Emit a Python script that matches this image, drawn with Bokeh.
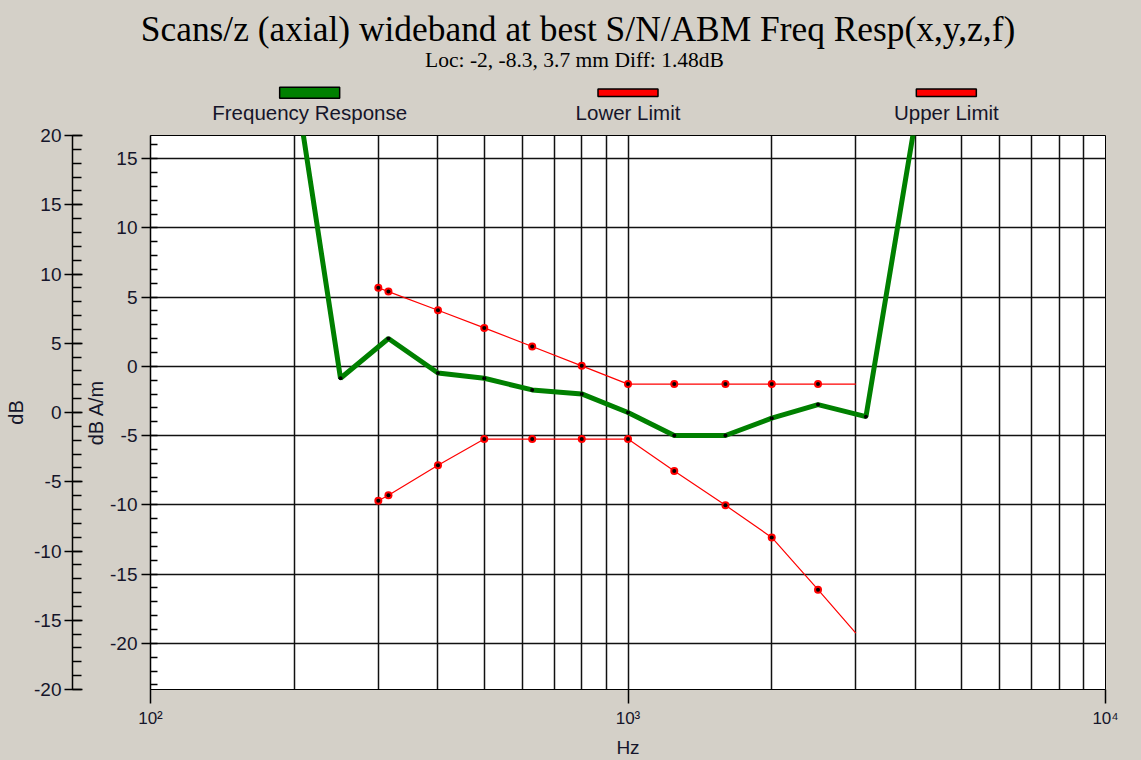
from bokeh.plotting import figure
from bokeh.layouts import column
from bokeh.models import Range1d, LinearAxis, FixedTicker
from bokeh.core.properties import value
from bokeh.embed import file_html
from bokeh.resources import INLINE

# ---------------- data ----------------
title_text = "Scans/z (axial) wideband at best S/N/ABM Freq Resp(x,y,z,f)"
subtitle_text = "Loc: -2, -8.3, 3.7 mm Diff: 1.48dB"
legend_labels = ["Frequency Response", "Lower Limit", "Upper Limit"]
legend_colors = ["#008000", "#FF0000", "#FF0000"]

resp_hz = [200, 250, 315, 400, 500, 630, 800, 1000, 1250, 1600, 2000, 2500, 3150, 4000]
resp_db = [21.0, -0.86, 2.01, -0.48, -0.86, -1.70, -1.99, -3.33, -4.99, -4.99, -3.74, -2.76, -3.63, 17.8]

upper_hz = [300, 315, 400, 500, 630, 800, 1000, 1250, 1600, 2000, 2500, 3000]
upper_db = [5.68, 5.40, 4.05, 2.78, 1.44, 0.04, -1.28, -1.28, -1.28, -1.28, -1.28, -1.28]

lower_hz = [300, 315, 400, 500, 630, 800, 1000, 1250, 1600, 2000, 2500, 3000]
lower_db = [-9.70, -9.30, -7.14, -5.25, -5.25, -5.25, -5.25, -7.55, -10.03, -12.35, -16.12, -19.26]

x_major = [100, 1000, 10000]
x_minor = [200, 300, 400, 500, 600, 700, 800, 900,
           2000, 3000, 4000, 5000, 6000, 7000, 8000, 9000]
x_labels = ["10\u00b2", "10\u00b3", "10\u2074"]
inner_major = [-20, -15, -10, -5, 0, 5, 10, 15]
inner_minor = list(range(-23, 17))
outer_major = [-20, -15, -10, -5, 0, 5, 10, 15, 20]
outer_minor = list(range(-20, 21))

# ---------------- style ----------------
BG = "#D4D0C8"
TXT = "#15152a"
SANS = "Liberation Sans"
SERIF = "Liberation Serif"
W = 1141
HEAD_H = 124
MAIN_H = 760 - HEAD_H
L, R, T, B = 150, 36, 135 - HEAD_H, 68


def no_align(fig):
    try:
        fig.frame_align = False
    except AttributeError:
        pass


# ---------------- header (title + legend) ----------------
hd = figure(width=W, height=HEAD_H, x_range=Range1d(0, W), y_range=Range1d(HEAD_H, 0),
            x_axis_location=None, y_axis_location=None,
            output_backend="svg", toolbar_location=None,
            min_border=0, min_border_left=0, min_border_right=0,
            min_border_top=0, min_border_bottom=0,
            background_fill_color=BG, border_fill_color=BG, outline_line_color=None)
hd.grid.visible = False
no_align(hd)
hd.text(x=[577.5], y=[28.5], text=[title_text], text_align="center",
        text_baseline="middle", text_font=value(SERIF),
        text_font_size=value("35.4px"), text_color="black")
hd.text(x=[574], y=[59], text=[subtitle_text], text_align="center",
        text_baseline="middle", text_font=value(SERIF),
        text_font_size=value("21.5px"), text_color="black")

frame_l, frame_r = L, W - R
col_w = (frame_r - frame_l) / 3
centers = [frame_l + col_w * (k + 0.5) for k in range(3)]
sw_half_h = [5.5, 3.8, 3.8]
hd.quad(left=[c - 30 for c in centers], right=[c + 30 for c in centers],
        top=[92.2 - h for h in sw_half_h], bottom=[92.2 + h for h in sw_half_h],
        fill_color=legend_colors, line_color="black", line_width=1.5)
hd.text(x=centers, y=[112] * 3, text=legend_labels, text_align="center",
        text_baseline="middle", text_font=value(SANS),
        text_font_size=value("20.5px"), text_color=TXT)

# ---------------- main plot ----------------
p = figure(width=W, height=MAIN_H, x_axis_type="log",
           x_range=Range1d(100, 10000), y_range=Range1d(-23.33, 16.67),
           output_backend="svg", toolbar_location=None,
           min_border_left=L, min_border_right=R, min_border_top=T, min_border_bottom=B,
           background_fill_color="white", border_fill_color=BG,
           outline_line_color="black", outline_line_width=1)
no_align(p)
p.extra_y_ranges = {"outer": Range1d(-20, 20)}

# x axis
xa = p.xaxis[0]
xt = FixedTicker(ticks=x_major, minor_ticks=x_minor)
xa.ticker = xt
xa.major_label_overrides = {v: s for v, s in zip(x_major, x_labels)}
xa.major_tick_out = 14
xa.major_tick_in = 0
xa.minor_tick_in = 0
xa.minor_tick_out = 0
xa.major_label_standoff = 5
xa.major_label_text_font = SANS
xa.major_label_text_font_size = "17px"
xa.major_label_text_color = TXT
xa.axis_label = "Hz"
xa.axis_label_text_font = SANS
xa.axis_label_text_font_size = "19px"
xa.axis_label_text_font_style = "normal"
xa.axis_label_text_color = TXT
xa.axis_label_standoff = 6
xa.axis_line_color = "black"
xa.major_tick_line_width = 1.5

# inner y axis (dB A/m)
ya = p.yaxis[0]
ya.ticker = FixedTicker(ticks=inner_major, minor_ticks=inner_minor)
ya.major_label_overrides = {v: str(v) for v in inner_major}
ya.major_tick_out = 9
ya.major_tick_in = 0
ya.minor_tick_in = 7
ya.minor_tick_out = 0
ya.major_label_standoff = 4
ya.major_label_text_font = SANS
ya.major_label_text_font_size = "19px"
ya.major_label_text_color = TXT
ya.axis_label = "dB A/m"
ya.axis_label_text_font = SANS
ya.axis_label_text_font_size = "20px"
ya.axis_label_text_font_style = "normal"
ya.axis_label_text_color = TXT
ya.axis_label_standoff = 0
ya.axis_line_width = 1.5
ya.major_tick_line_width = 1.5
ya.minor_tick_line_width = 1.5

# spacer between the two left axes (blank label only)
sp = LinearAxis(y_range_name="outer", ticker=FixedTicker(ticks=[]),
                axis_line_color=None, major_tick_line_color=None,
                minor_tick_line_color=None, major_tick_out=0, major_tick_in=0,
                minor_tick_out=0, minor_tick_in=0, major_label_standoff=0,
                axis_label=" ", axis_label_standoff=0,
                axis_label_text_font_size="7px")
p.add_layout(sp, "left")

# outer y axis (dB)
oa = LinearAxis(y_range_name="outer",
                ticker=FixedTicker(ticks=outer_major, minor_ticks=outer_minor))
oa.major_label_overrides = {v: str(v) for v in outer_major}
oa.major_tick_out = 8
oa.major_tick_in = 10
oa.minor_tick_in = 9
oa.minor_tick_out = 0
oa.major_label_standoff = 3
oa.major_label_text_font = SANS
oa.major_label_text_font_size = "19px"
oa.major_label_text_color = TXT
oa.axis_label = "dB"
oa.axis_label_text_font = SANS
oa.axis_label_text_font_size = "20px"
oa.axis_label_text_font_style = "normal"
oa.axis_label_text_color = TXT
oa.axis_label_standoff = 4
oa.axis_line_width = 1.5
oa.major_tick_line_width = 1.5
oa.minor_tick_line_width = 1.5
p.add_layout(oa, "left")

# grids
p.xgrid.ticker = xt
p.xgrid.grid_line_color = "#111111"
p.xgrid.grid_line_width = 1.5
p.xgrid.minor_grid_line_color = "#111111"
p.xgrid.minor_grid_line_width = 1.5
p.ygrid.ticker = FixedTicker(ticks=inner_major)
p.ygrid.grid_line_color = "#111111"
p.ygrid.grid_line_width = 1.5

# data
p.line(upper_hz, upper_db, line_color="#FF0000", line_width=1.2)
p.line(lower_hz, lower_db, line_color="#FF0000", line_width=1.2)
for hz, db in ((upper_hz, upper_db), (lower_hz, lower_db)):
    p.scatter(hz[:-1], db[:-1], size=8, fill_color="#FF0000", line_color=None)
    p.scatter(hz[:-1], db[:-1], size=4, fill_color="black", line_color=None)
p.line(resp_hz, resp_db, line_color="#008000", line_width=5)
p.scatter(resp_hz, resp_db, size=4, fill_color="black", line_color=None)

layout = column(hd, p, spacing=0, styles={"background-color": BG})
open("out.html", "w").write(file_html(layout, INLINE))
